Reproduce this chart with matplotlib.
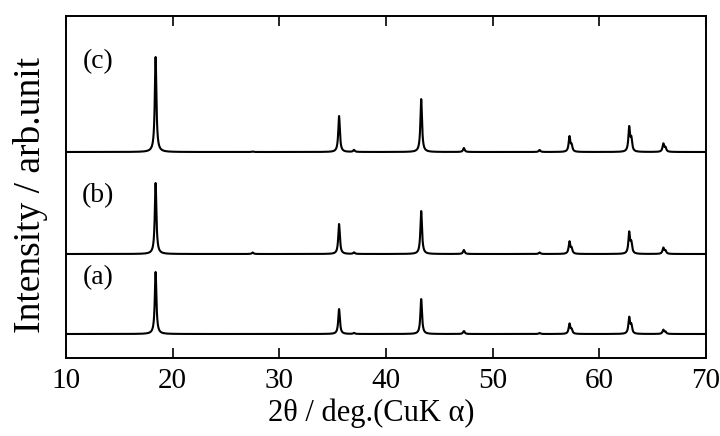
import numpy as np
import matplotlib
matplotlib.use('Agg')
import matplotlib.pyplot as plt

# --- peak data (2theta, relative height) ---
peak_pos = [18.4, 27.5, 35.6, 37.0, 43.3, 47.3, 54.4, 57.2, 57.4, 62.8, 63.0, 66.0, 66.2]
heights_a = [62, 0.0, 25, 1.0, 35, 3, 1.0, 10, 4, 16, 8, 4, 2]
heights_b = [71, 1.5, 30, 1.5, 43, 4, 1.5, 12, 5, 21, 10, 6, 3]
heights_c = [95, 0.5, 36, 2.0, 53, 4, 2.0, 15, 6, 24, 12, 8, 4]
offsets = [24, 104, 206]
labels = ['(a)', '(b)', '(c)']
label_y = [80, 162, 296]

plt.rcParams['font.family'] = ['Liberation Serif', 'DejaVu Serif']

tt = np.linspace(10, 70, 6000)
width = 0.09


def pattern(heights):
    y = np.zeros_like(tt)
    for p, h in zip(peak_pos, heights):
        y += h / (1 + ((tt - p) / width) ** 2)
    return y


fig = plt.figure(figsize=(7.2, 4.36), dpi=100)
ax = fig.add_axes([66 / 720, 1 - 358 / 436, 640 / 720, 342 / 436])

for hts, off, lab, ly in zip([heights_a, heights_b, heights_c], offsets, labels, label_y):
    ax.plot(tt, pattern(hts) + off, color='black', lw=1.5)
    ax.text(13.0, ly, lab, fontsize=20, ha='center', va='center')

ax.set_xlim(10, 70)
ax.set_ylim(0, 342)
ax.set_xticks([10, 20, 30, 40, 50, 60, 70])
ax.set_yticks([])
ax.tick_params(axis='x', direction='in', top=True, length=7, width=1.2,
               labelsize=21, pad=7)
for s in ax.spines.values():
    s.set_linewidth(1.4)

ax.set_xlabel('2θ / deg.(CuK α)', fontsize=22)
ax.xaxis.set_label_coords((371 - 66) / 640, -(398 - 358) / 342)
ax.set_ylabel('Intensity / arb.unit', fontsize=27)
ax.yaxis.set_label_coords(-(66 - 48) / 640, (358 - 195) / 342)

plt.savefig('out.png', dpi=100)
